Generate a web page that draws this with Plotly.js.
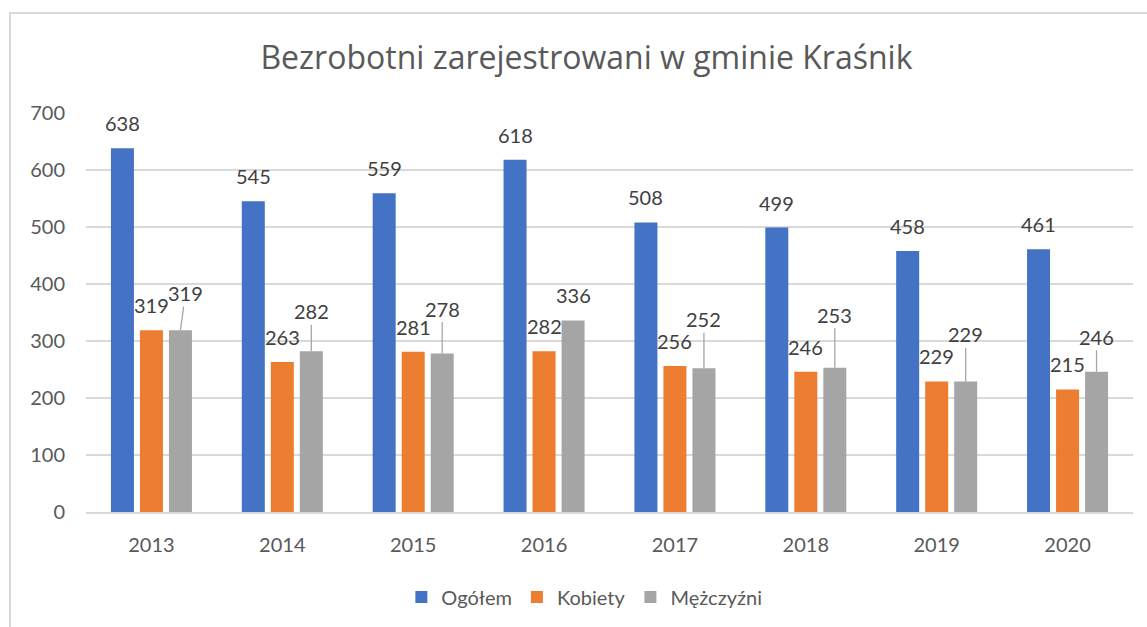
<!DOCTYPE html>
<html>
<head>
<meta charset="utf-8">
<script src="https://cdn.plot.ly/plotly-3.0.1.min.js"></script>
<style>
  html, body { margin: 0; padding: 0; background: #ffffff; overflow: hidden; }
  #frame { position: absolute; left: 9px; top: 12px; width: 1200px; height: 700px;
           border: 2px solid #d9d9d9; box-sizing: border-box; }
  #chart { position: absolute; left: 0; top: 0; width: 1147px; height: 627px; }
</style>
</head>
<body>
<div id="frame"></div>
<div id="chart"></div>
<script>
// ---- data ----
const years = ['2013', '2014', '2015', '2016', '2017', '2018', '2019', '2020'];
const ogolem = [638, 545, 559, 618, 508, 499, 458, 461];
const kobiety = [319, 263, 281, 282, 256, 246, 229, 215];
const mezczyzni = [319, 282, 278, 336, 252, 253, 229, 246];
const seriesNames = ['Ogółem', 'Kobiety', 'Mężczyźni'];

// ---- styling / label placement ----
const colors = ['#4472C4', '#ED7D31', '#A5A5A5'];
const FONT = 'Lato, "Open Sans", sans-serif';
const TITLE_FONT = '"Open Sans", Lato, sans-serif';
const barShift = [-29, 0, 29];          // px offset of each series' bar within group
const labelLift = 25;                   // px from bar top to label centre
const grayLift = [37, 40, 45, 25, 49, 53, 47, 35];   // Excel-moved labels
const grayDx = [5, 0, 0, 0, 0, 0, 0, 0];
const grayLeader = [true, true, true, false, true, true, true, true];

const allSeries = [ogolem, kobiety, mezczyzni];
const traces = allSeries.map((vals, i) => ({
  type: 'bar',
  name: seriesNames[i],
  x: years,
  y: vals,
  marker: { color: colors[i] },
  hoverinfo: 'skip'
}));

const annotations = [];
allSeries.forEach((vals, s) => {
  vals.forEach((v, k) => {
    const base = {
      x: k, y: v, xref: 'x', yref: 'y',   // k = category index on the category axis
      text: String(v),
      font: { family: FONT, size: 20, color: '#404040' },
      xshift: barShift[s]
    };
    if (s === 2 && grayLeader[k]) {
      annotations.push(Object.assign(base, {
        showarrow: true, arrowhead: 0, arrowwidth: 1.3, arrowcolor: '#a6a6a6',
        ax: grayDx[k], ay: -grayLift[k], standoff: 0
      }));
    } else {
      const lift = s === 2 ? grayLift[k] : labelLift;
      annotations.push(Object.assign(base, {
        showarrow: false, yanchor: 'middle', yshift: lift
      }));
    }
  });
});

const layout = {
  width: 1147, height: 627,
  paper_bgcolor: 'rgba(0,0,0,0)',
  plot_bgcolor: 'rgba(0,0,0,0)',
  margin: { l: 86, r: 14, t: 113, b: 114 },
  font: { family: FONT, color: '#595959' },
  title: {
    text: 'Bezrobotni zarejestrowani w gminie Kraśnik',
    font: { family: TITLE_FONT, size: 32, color: '#595959' },
    xref: 'container', x: 0.5113, xanchor: 'center',
    yref: 'container', y: 1 - 58 / 627, yanchor: 'middle'
  },
  barmode: 'group',
  bargap: 0.335,
  bargroupgap: 0.207,
  xaxis: {
    type: 'category',
    range: [-0.5, years.length - 0.5],
    autorange: false,
    showgrid: false,
    showline: true, linecolor: '#d9d9d9', linewidth: 2,
    ticks: '', ticklabelstandoff: 14,
    tickfont: { family: FONT, size: 20, color: '#595959' },
    fixedrange: true
  },
  yaxis: {
    range: [0, 700],
    autorange: false,
    dtick: 100,
    showgrid: true, gridcolor: '#d9d9d9', gridwidth: 2,
    zeroline: false, showline: false,
    ticks: '', ticklabelstandoff: 20,
    tickfont: { family: FONT, size: 20, color: '#595959' },
    fixedrange: true
  },
  showlegend: true,
  legend: {
    orientation: 'h',
    x: 0.476, xanchor: 'center',
    y: -0.21, yanchor: 'middle',
    font: { family: FONT, size: 20, color: '#595959' },
    itemclick: false, itemdoubleclick: false
  },
  annotations: annotations
};

Plotly.newPlot('chart', traces, layout, { displayModeBar: false, staticPlot: true });
</script>
</body>
</html>
